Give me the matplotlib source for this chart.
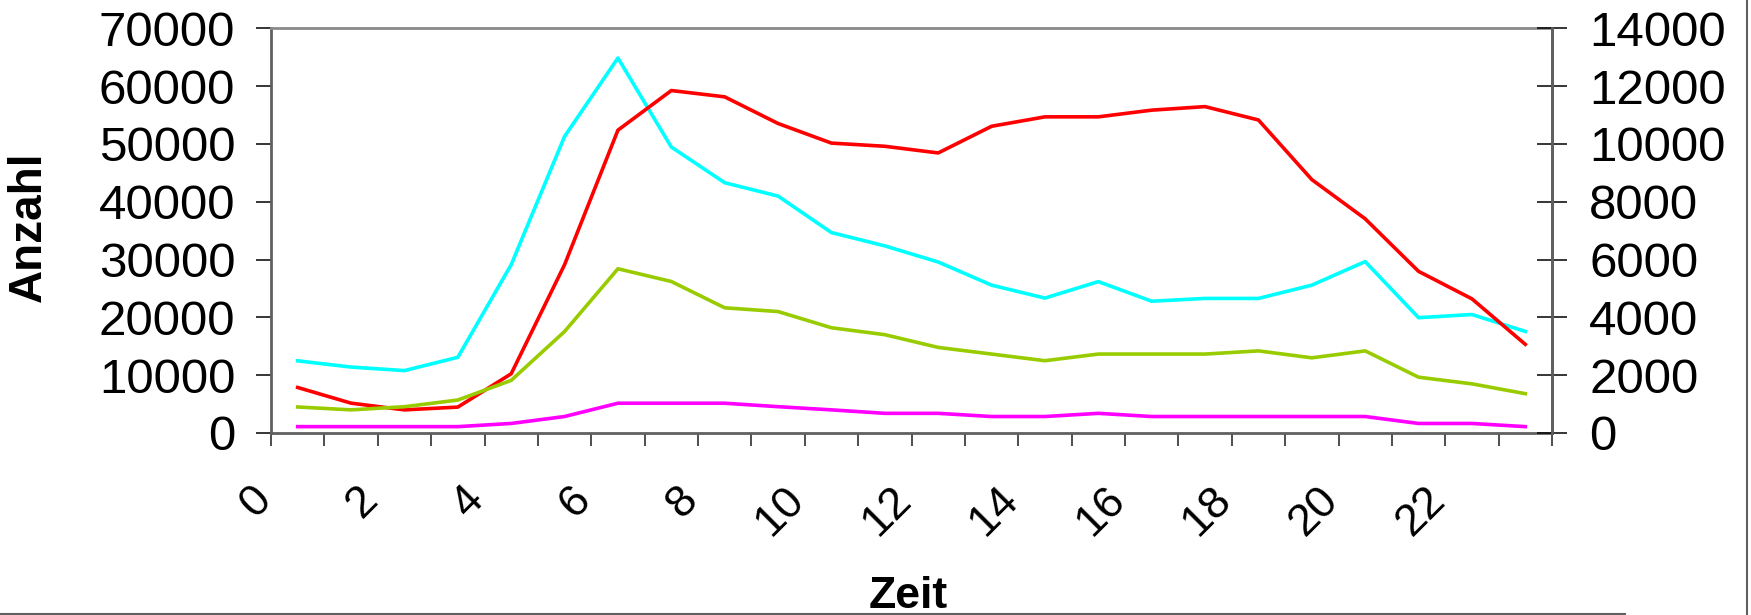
import matplotlib
matplotlib.use('Agg')
import matplotlib.pyplot as plt
import matplotlib.transforms as mtransforms
from matplotlib.lines import Line2D

# ---- data ----
hours = list(range(24))
x_tick_labels = ['0', '2', '4', '6', '8', '10', '12', '14', '16', '18', '20', '22']
left_ticks = [0, 10000, 20000, 30000, 40000, 50000, 60000, 70000]
right_ticks = [0, 2000, 4000, 6000, 8000, 10000, 12000, 14000]

# left axis series
red = [7870, 5160, 4000, 4480, 10240, 29100, 52370, 59220, 58130, 53520, 50130, 49580,
       48430, 53040, 54670, 54670, 55830, 56440, 54130, 43820, 37040, 27950, 23200, 15330]
cyan = [12480, 11400, 10790, 13090, 29100, 51280, 64850, 49450, 43280, 40970, 34660, 32360,
        29570, 25570, 23330, 26180, 22790, 23270, 23270, 25570, 29640, 19940, 20490, 17570]
# right axis series
green = [900, 800, 910, 1140, 1820, 3510, 5680, 5240, 4330, 4200, 3640, 3400,
         2960, 2730, 2500, 2730, 2730, 2730, 2840, 2600, 2840, 1930, 1700, 1360]
magenta = [220, 220, 220, 220, 330, 570, 1030, 1030, 1030, 910, 800, 680,
           680, 570, 570, 680, 570, 570, 570, 570, 570, 330, 330, 220]

FONT = 'Liberation Sans'
W, H = 1751, 615
fig = plt.figure(figsize=(W / 100, H / 100), dpi=100)
fig.patch.set_facecolor('white')

L, R, T, B = 271, 1552, 28.2, 433.0
ax = fig.add_axes([L / W, 1 - B / H, (R - L) / W, (B - T) / H])
ax2 = ax.twinx()

xpos = [h + 0.5 for h in hours]
lw = 2.6
ax.plot(xpos, cyan, color='#00FFFF', lw=lw, zorder=3)
ax2.plot(xpos, green, color='#99CC00', lw=lw, zorder=3)
ax2.plot(xpos, magenta, color='#FF00FF', lw=lw, zorder=3)
ax.plot(xpos, red, color='#FF0000', lw=lw, zorder=4)

ax.set_xlim(0, 24)
ax.set_ylim(0, 70000)
ax2.set_ylim(0, 14000)

ax.set_yticks(left_ticks)
ax.set_yticklabels([str(v) for v in left_ticks], fontfamily=FONT, fontsize=35.5)
ax2.set_yticks(right_ticks)
ax2.set_yticklabels([str(v) for v in right_ticks], fontfamily=FONT, fontsize=35.5)

ax.tick_params(axis='y', direction='out', length=10.8, width=1.1, color='black', pad=15)
ax2.tick_params(axis='y', direction='inout', length=21.6, width=1.1, color='black', pad=16)

ax.set_xticks(list(range(25)))
ax.set_xticklabels([])
ax.tick_params(axis='x', direction='out', length=9.6, width=1.3, color='#404040')

# category labels (every second hour), rotated
trans = mtransforms.blended_transform_factory(ax.transData, ax.transAxes)
trans = trans + mtransforms.ScaledTranslation(8 / 100, 0, fig.dpi_scale_trans)
for i, lab in enumerate(x_tick_labels):
    ax.text(2 * i, -0.113, lab, transform=trans, rotation=45, ha='right', va='top',
            fontfamily=FONT, fontsize=32.5)

for a in (ax, ax2):
    for s in a.spines.values():
        s.set_linewidth(2.0)
        s.set_color('#606060')
    a.spines['top'].set_color('#8a8a8a')
    a.set_facecolor('none')
ax2.spines['left'].set_visible(False)
ax2.spines['bottom'].set_visible(False)
ax2.spines['top'].set_visible(False)

fig.text(29 / W, 1 - 226.5 / H, 'Anzahl', rotation=90, ha='center', va='center',
         fontfamily=FONT, fontweight='bold', fontsize=33)
fig.text(908.5 / W, 1 - 608 / H, 'Zeit', ha='center', va='baseline',
         fontfamily=FONT, fontweight='bold', fontsize=32)

# outer chart border fragments
fig.add_artist(Line2D([0, 1625 / W], [1 - 614 / H, 1 - 614 / H], transform=fig.transFigure,
                      color='#606060', lw=1.5))
fig.add_artist(Line2D([1747 / W, 1747 / W], [1, 0], transform=fig.transFigure,
                      color='#606060', lw=1.5))

fig.savefig('out.png', dpi=100, facecolor='white')
